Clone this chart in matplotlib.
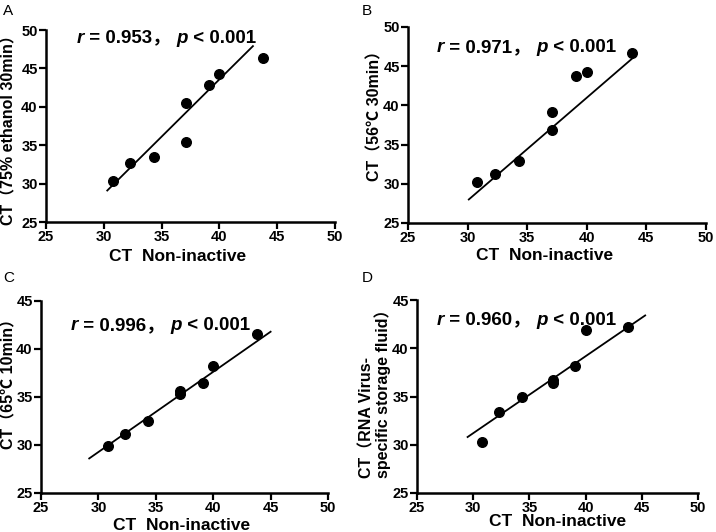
import numpy as np
import matplotlib
matplotlib.use("Agg")
from matplotlib import pyplot as plt

plt.rcParams['font.family'] = ['Liberation Sans', 'Noto Sans CJK SC', 'DejaVu Sans']
plt.rcParams['font.weight'] = 'bold'

# 横轴：未灭活 CT
ct_raw = [30.8, 32.3, 34.3, 37.1, 37.1, 39.1, 40.0, 43.8]

# 各处理组 CT
ct_ethanol = [30.4, 32.7, 33.5, 40.5, 35.4, 42.9, 44.3, 46.3]
ct_56c = [30.2, 31.3, 32.9, 39.1, 36.8, 43.8, 44.3, 46.7]
ct_65c = [29.9, 31.1, 32.5, 35.6, 35.3, 36.5, 38.2, 41.6]
ct_rna = [30.3, 33.4, 35.0, 36.7, 36.4, 38.2, 41.9, 42.2]

# 拟合线端点
fit_ethanol = ([30.3, 42.9], [29.1, 47.9])
fit_56c = ([30.1, 43.9], [28.0, 46.1])
fit_65c = ([29.2, 45.0], [28.6, 41.8])
fit_rna = ([29.5, 45.3], [30.8, 43.4])

r_values = ['0.953', '0.971', '0.996', '0.960']
panel_tags = ['A', 'B', 'C', 'D']
y_labels = ['CT（75% ethanol 30min）', 'CT（56℃ 30min）', 'CT（65℃ 10min）',
            'CT（RNA Virus-\nspecific storage fluid）']
y_ranges = [(25, 50), (25, 50), (25, 45), (25, 45)]
y_ticks = [[25, 30, 35, 40, 45, 50], [25, 30, 35, 40, 45, 50],
           [25, 30, 35, 40, 45], [25, 30, 35, 40, 45]]
x_ticks = [25, 30, 35, 40, 45, 50]

W, H = 716, 532
# 每个子图的像素位置 left, top, right, bottom
boxes = [(46, 30, 335, 222), (408, 27, 706, 223), (41, 301, 328, 493), (417, 300, 698, 493)]
xlab_pos = [(0.455, -0.14), (0.458, -0.128), (0.49, -0.128), (0.50, -0.11)]
ylab_pos = [(-0.128, 0.5), (-0.112, 0.566), (-0.112, 0.589), (-0.150, 0.534)]
txt_pos = [(0.107, 0.958), (0.097, 0.893), (0.105, 0.87), (0.071, 0.896)]
tag_pos = [(3, 11), (362, 11), (3, 278), (362, 278)]


def stat_text(ax, x, y, r):
    fs = 13.5
    t1 = ax.text(x, y, 'r', transform=ax.transAxes, fontsize=fs, style='italic',
                 fontweight='bold', va='center', ha='left')
    t2 = ax.annotate(' = ' + r + '， ', xy=(1, 0), xycoords=t1, fontsize=fs,
                     fontweight='bold', va='bottom', ha='left')
    t3 = ax.annotate('p', xy=(1, 0), xycoords=t2, fontsize=fs, style='italic',
                     fontweight='bold', va='bottom', ha='left')
    ax.annotate(' < 0.001', xy=(1, 0), xycoords=t3, fontsize=fs,
                fontweight='bold', va='bottom', ha='left')


fig = plt.figure(figsize=(7.16, 5.32), dpi=100)

data_y = [ct_ethanol, ct_56c, ct_65c, ct_rna]
fits = [fit_ethanol, fit_56c, fit_65c, fit_rna]

for i in range(4):
    l, t, r, b = boxes[i]
    ax = fig.add_axes([l / W, 1 - b / H, (r - l) / W, (b - t) / H])
    ax.scatter(ct_raw, data_y[i], s=48, color='black', zorder=3, clip_on=False)
    ax.plot(fits[i][0], fits[i][1], color='black', lw=1.3)
    ax.set_xlim(25, 50)
    ax.set_ylim(*y_ranges[i])
    ax.set_xticks(x_ticks, labels=[str(v) for v in x_ticks], fontweight='bold', fontsize=10.5)
    ax.set_yticks(y_ticks[i], labels=[str(v) for v in y_ticks[i]], fontweight='bold', fontsize=10.5)
    for s in ['top', 'right']:
        ax.spines[s].set_visible(False)
    for s in ['left', 'bottom']:
        ax.spines[s].set_linewidth(1.8)
    ax.tick_params(direction='out', length=5, width=1.6, pad=1)
    ax.set_xlabel('CT  Non-inactive', fontsize=12.5, fontweight='bold', va='top')
    ax.xaxis.set_label_coords(*xlab_pos[i])
    ax.set_ylabel(y_labels[i], fontsize=11.5, fontweight='bold', va='center',
                  multialignment='left', linespacing=1.0)
    ax.yaxis.set_label_coords(*ylab_pos[i])
    stat_text(ax, txt_pos[i][0], txt_pos[i][1], r_values[i])
    fig.text(tag_pos[i][0] / W, 1 - tag_pos[i][1] / H, panel_tags[i], fontsize=11,
             fontweight='normal', va='center', ha='left')

plt.savefig('out.png', dpi=100)
